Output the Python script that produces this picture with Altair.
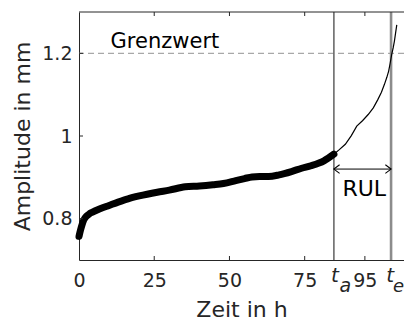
import altair as alt
import pandas as pd

# ---- data ----
t_thick = [0, 0.5, 1, 1.6, 2.5, 3.5, 4.5, 7, 10, 13, 16.3, 20, 26, 30, 35.3, 40, 44.5, 48,
           52.1, 55, 57.5, 60, 63, 66.5, 70.6, 74, 77.1, 81.4, 84.7]
a_thick = [0.757, 0.772, 0.785, 0.797, 0.806, 0.812, 0.816, 0.824, 0.832, 0.840, 0.848, 0.855,
           0.864, 0.869, 0.877, 0.879, 0.882, 0.885, 0.892, 0.897, 0.901, 0.902, 0.902, 0.906,
           0.914, 0.922, 0.928, 0.940, 0.956]
t_thin = [84.7, 86.5, 88.5, 90.5, 92.3, 94.2, 96.1, 97.8, 99.3, 100.5, 101.5, 102.3, 102.9,
          103.4, 103.9, 104.4, 104.8, 105.2, 105.6]
a_thin = [0.956, 0.967, 0.980, 1.001, 1.024, 1.037, 1.052, 1.068, 1.088, 1.106, 1.125, 1.142,
          1.157, 1.176, 1.197, 1.213, 1.229, 1.249, 1.269]

x_tick_values = [0, 25, 50, 75, 95]
x_inner_ticks = [25, 50, 75, 95]
y_tick_values = [0.8, 1.0, 1.2]
t_a = 84.7
t_e = 103.7
grenzwert = 1.2
rul_level = 0.92

X_DOMAIN = [0, 108]
Y_DOMAIN = [0.7, 1.3]
W, H = 325, 248
FONT = "DejaVu Sans"
INK = "#262626"

xs = alt.Scale(domain=X_DOMAIN, nice=False, zero=False)
ys = alt.Scale(domain=Y_DOMAIN, nice=False, zero=False)

thick_df = pd.DataFrame({"t": t_thick, "a": a_thick})
thin_df = pd.DataFrame({"t": t_thin, "a": a_thin})

x_enc = alt.X("t:Q", scale=xs,
              axis=alt.Axis(values=x_tick_values, ticks=False, grid=False, labelFont=FONT,
                            labelFontSize=19, labelColor=INK, labelPadding=11,
                            domainColor=INK, title="Zeit in h", titleFont=FONT,
                            titleFontSize=22, titleFontWeight="normal", titleColor=INK,
                            titlePadding=9, labelFlush=False))
y_enc = alt.Y("a:Q", scale=ys,
              axis=alt.Axis(values=y_tick_values, format="~g", ticks=False, grid=False,
                            labelFont=FONT, labelFontSize=19, labelColor=INK, labelPadding=7,
                            domainColor=INK, title="Amplitude in mm", titleFont=FONT,
                            titleFontSize=22, titleFontWeight="normal", titleColor=INK,
                            titlePadding=7, labelFlush=False))

thick = alt.Chart(thick_df).mark_line(color="black", strokeWidth=7, strokeCap="round",
                                      strokeJoin="round", interpolate="monotone").encode(
    x=x_enc, y=y_enc)
thin = alt.Chart(thin_df).mark_line(color="black", strokeWidth=1.2).encode(
    x=alt.X("t:Q", scale=xs), y=alt.Y("a:Q", scale=ys))

limit = alt.Chart(pd.DataFrame({"a": [grenzwert]})).mark_rule(
    color="#a8a8a8", strokeWidth=1.2, strokeDash=[6, 4]).encode(y=alt.Y("a:Q", scale=ys))

limit_text = alt.Chart(pd.DataFrame({"t": [10.5], "a": [1.213], "s": ["Grenzwert"]})).mark_text(
    font=FONT, fontSize=21, color="black", align="left", baseline="alphabetic").encode(
    x=alt.X("t:Q", scale=xs), y=alt.Y("a:Q", scale=ys), text="s:N")

vlines = alt.Chart(pd.DataFrame({"t": [t_a, t_e], "c": ["#6a6a6a", "#8c8c8c"],
                                 "w": [1.6, 2.6]})).mark_rule().encode(
    x=alt.X("t:Q", scale=xs), color=alt.Color("c:N", scale=None),
    strokeWidth=alt.StrokeWidth("w:Q", scale=None))

arrow = alt.Chart(pd.DataFrame({"t": [t_a], "t2": [t_e], "a": [rul_level]})).mark_rule(
    color="black", strokeWidth=1).encode(x=alt.X("t:Q", scale=xs), x2="t2:Q",
                                         y=alt.Y("a:Q", scale=ys))
head_l = alt.Chart(pd.DataFrame({"t": [t_a], "a": [rul_level]})).mark_point(
    shape="M 1,-0.75 L 0,0 L 1,0.75", size=130, filled=False, color="black",
    strokeWidth=1.1, opacity=1).encode(x=alt.X("t:Q", scale=xs), y=alt.Y("a:Q", scale=ys))
head_r = alt.Chart(pd.DataFrame({"t": [t_e], "a": [rul_level]})).mark_point(
    shape="M -1,-0.75 L 0,0 L -1,0.75", size=130, filled=False, color="black",
    strokeWidth=1.1, opacity=1).encode(x=alt.X("t:Q", scale=xs), y=alt.Y("a:Q", scale=ys))

rul_text = alt.Chart(pd.DataFrame({"t": [94.8], "a": [0.872], "s": ["RUL"]})).mark_text(
    font=FONT, fontSize=22, color="black", align="center", baseline="middle").encode(
    x=alt.X("t:Q", scale=xs), y=alt.Y("a:Q", scale=ys), text="s:N")

# top border of the box
top_border = alt.Chart(pd.DataFrame({"k": [0]})).mark_rule(color=INK, strokeWidth=1).encode(
    y=alt.value(0))

# inward ticks (MATLAB style box)
bt_df = pd.DataFrame({"t": x_inner_ticks})
ticks_bottom = alt.Chart(bt_df).mark_rule(color=INK, strokeWidth=1).encode(
    x=alt.X("t:Q", scale=xs), y=alt.value(H), y2=alt.value(H - 4))
ticks_top = alt.Chart(bt_df).mark_rule(color=INK, strokeWidth=1).encode(
    x=alt.X("t:Q", scale=xs), y=alt.value(0), y2=alt.value(4))
ticks_left = alt.Chart(pd.DataFrame({"a": y_tick_values})).mark_rule(
    color=INK, strokeWidth=1).encode(y=alt.Y("a:Q", scale=ys), x=alt.value(0), x2=alt.value(4))

# t_a / t_e tick labels with subscripts
def sub_label(tv, s, size, dx, dy):
    return alt.Chart(pd.DataFrame({"t": [tv], "a": [Y_DOMAIN[0]], "s": [s]})).mark_text(
        font=FONT, fontSize=size, fontStyle="italic", color=INK, align="center",
        baseline="alphabetic", dx=dx, dy=dy).encode(
        x=alt.X("t:Q", scale=xs), y=alt.Y("a:Q", scale=ys), text="s:N")

t_main_a = sub_label(t_a, "t", 20, 1, 22)
t_sub_a = sub_label(t_a, "a", 19, 11.5, 32)
t_main_e = sub_label(t_e, "t", 20, -1, 22)
t_sub_e = sub_label(t_e, "e", 18, 7.5, 32)

chart = alt.layer(
    limit, vlines, thick, thin, arrow, head_l, head_r, limit_text, rul_text, top_border,
    ticks_bottom, ticks_top, ticks_left, t_main_a, t_sub_a, t_main_e, t_sub_e
).properties(
    width=W, height=H,
    autosize=alt.AutoSizeParams(type="none"),
    padding={"left": 71, "top": 4, "right": 0, "bottom": 60},
    background="white",
).configure_view(strokeWidth=0)

chart.save("out.html", embed_options={"renderer": "svg", "actions": False})
